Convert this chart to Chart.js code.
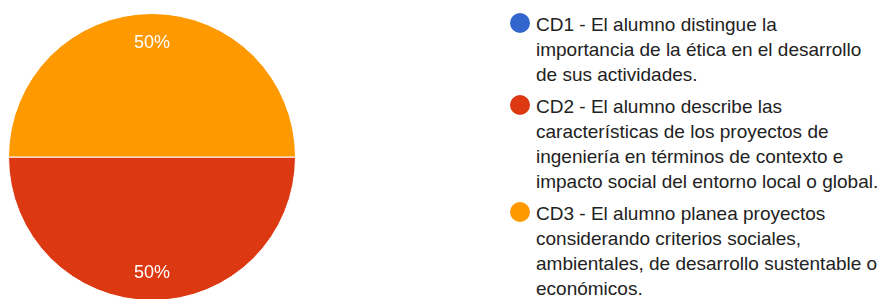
<!DOCTYPE html>
<html>
<head>
<meta charset="utf-8">
<script src="https://cdn.jsdelivr.net/npm/chart.js@4.4.1/dist/chart.umd.min.js"></script>
<style>
  html, body { margin: 0; padding: 0; background: #fff; width: 885px; height: 299px; overflow: hidden; }
  #wrap { position: absolute; left: 0; top: 0; width: 310px; height: 320px; }
  #legend { position: absolute; left: 509px; top: 12px; width: 376px; font-family: "Liberation Sans", Arial, sans-serif; font-size: 19px; line-height: 25px; color: #222; }
  .item { position: relative; padding-left: 27px; margin-bottom: 7px; }
  .dot { position: absolute; left: 1px; top: 1px; width: 20px; height: 20px; border-radius: 50%; }
</style>
</head>
<body>
<div id="wrap"><canvas id="c"></canvas></div>
<div id="legend"></div>
<script>
const categories = [
  "CD1 - El alumno distingue la importancia de la ética en el desarrollo de sus actividades.",
  "CD2 - El alumno describe las características de los proyectos de ingeniería en términos de contexto e impacto social del entorno local o global.",
  "CD3 - El alumno planea proyectos considerando criterios sociales, ambientales, de desarrollo sustentable o económicos."
];
const legendLines = [
  ["CD1 - El alumno distingue la", "importancia de la ética en el desarrollo", "de sus actividades."],
  ["CD2 - El alumno describe las", "características de los proyectos de", "ingeniería en términos de contexto e", "impacto social del entorno local o global."],
  ["CD3 - El alumno planea proyectos", "considerando criterios sociales,", "ambientales, de desarrollo sustentable o", "económicos."]
];
const values = [0, 50, 50];
const colors = ["#3366CC", "#DC3912", "#FF9900"];

const leg = document.getElementById('legend');
legendLines.forEach((lines, i) => {
  const d = document.createElement('div');
  d.className = 'item';
  const dot = document.createElement('span');
  dot.className = 'dot';
  dot.style.background = colors[i];
  d.appendChild(dot);
  lines.forEach((ln, j) => {
    if (j) d.appendChild(document.createElement('br'));
    d.appendChild(document.createTextNode(ln));
  });
  leg.appendChild(d);
});

const pctLabels = {
  id: 'pctLabels',
  afterDatasetsDraw(chart) {
    const ctx = chart.ctx;
    const meta = chart.getDatasetMeta(0);
    const data = chart.data.datasets[0].data;
    const total = data.reduce((a, b) => a + b, 0);
    ctx.save();
    ctx.fillStyle = '#fff';
    ctx.font = '18px "Liberation Sans", Arial, sans-serif';
    ctx.textAlign = 'center';
    ctx.textBaseline = 'middle';
    meta.data.forEach((arc, i) => {
      if (!data[i]) return;
      const p = arc.getProps(['x', 'y', 'startAngle', 'endAngle', 'outerRadius']);
      const mid = (p.startAngle + p.endAngle) / 2;
      const r = p.outerRadius * 0.8;
      ctx.fillText(Math.round(data[i] / total * 100) + '%', p.x + Math.cos(mid) * r, p.y + Math.sin(mid) * r + 1);
    });
    ctx.restore();
  }
};

new Chart(document.getElementById('c'), {
  type: 'pie',
  data: {
    labels: categories,
    datasets: [{ data: values, backgroundColor: colors, borderColor: '#fff', borderWidth: 1 }]
  },
  options: {
    responsive: true,
    maintainAspectRatio: false,
    animation: false,
    rotation: 90,
    layout: { padding: { left: 8, top: 13, right: 14, bottom: 19 } },
    plugins: { legend: { display: false }, tooltip: { enabled: false } }
  },
  plugins: [pctLabels]
});
</script>
</body>
</html>
